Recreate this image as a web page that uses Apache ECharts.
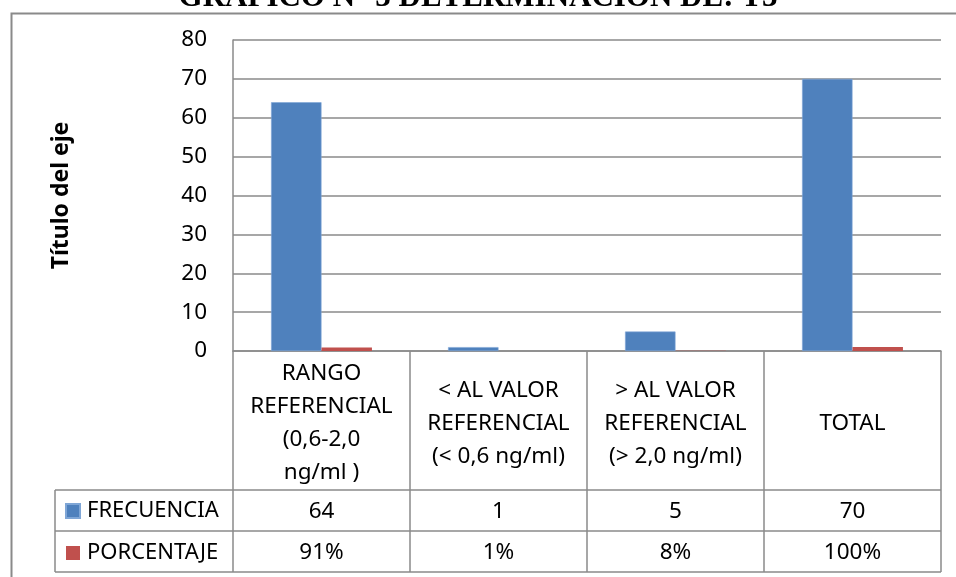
<!DOCTYPE html>
<html>
<head>
<meta charset="utf-8">
<script src="https://cdn.jsdelivr.net/npm/echarts@6/dist/echarts.min.js"></script>
<style>
  html, body { margin: 0; padding: 0; background: #fff; }
  #main { width: 956px; height: 577px; }
</style>
</head>
<body>
<div id="main"></div>
<script>
// datos del grafico
var categorias = ['RANGO\nREFERENCIAL\n(0,6-2,0\nng/ml )', '< AL VALOR\nREFERENCIAL\n(< 0,6 ng/ml)', '> AL VALOR\nREFERENCIAL\n(> 2,0 ng/ml)', 'TOTAL'];
var frecuencia = [64, 1, 5, 70];
var porcentaje = [0.91, 0.01, 0.08, 1];
var yTicks = [0, 10, 20, 30, 40, 50, 60, 70, 80];

var gris = '#8a8a8a';
var fuente = '"Noto Sans", sans-serif';

// medidas de la tabla de datos
var gridLeft = 233, gridRight = 15, gridTop = 40, gridBottom = 226;
var ejeY = 577 - gridBottom;   // linea del eje x
var filaCat = 139;            // alto de la fila de categorias
var filaDato = 41;            // alto de cada fila de valores
var tablaIzq = 55;
var tablaDer = 956 - gridRight;

var chart = echarts.init(document.getElementById('main'));

var option = {
  animation: false,
  textStyle: { fontFamily: fuente },
  grid: { left: gridLeft, right: gridRight, top: gridTop, bottom: gridBottom, containLabel: false },
  legend: {
    orient: 'vertical',
    left: 60,
    top: ejeY + filaCat + 5,
    itemWidth: 14,
    itemHeight: 14,
    itemGap: 20,
    icon: 'rect',
    data: ['FRECUENCIA', 'PORCENTAJE'],
    textStyle: { fontFamily: fuente, fontSize: 22, color: '#000', padding: [0, 0, 0, 2] }
  },
  xAxis: [
    {
      type: 'category',
      data: categorias,
      axisLine: { lineStyle: { color: gris, width: 1.5 } },
      axisTick: { show: true, length: filaCat + filaDato * 2, lineStyle: { color: gris, width: 1.5 } },
      axisLabel: {
        interval: 0,
        margin: filaCat / 2 + 3,
        verticalAlign: 'middle',
        lineHeight: 33,
        fontSize: 22.5,
        color: '#000',
        fontFamily: fuente
      }
    },
    {
      type: 'category',
      data: frecuencia.map(String),
      position: 'bottom',
      axisLine: { show: false },
      axisTick: { show: false },
      axisLabel: {
        interval: 0,
        margin: filaCat + filaDato / 2 + 1,
        verticalAlign: 'middle',
        fontSize: 22.5,
        color: '#000',
        fontFamily: fuente
      }
    },
    {
      type: 'category',
      data: porcentaje.map(function (p) { return Math.round(p * 100) + '%'; }),
      position: 'bottom',
      axisLine: { show: false },
      axisTick: { show: false },
      axisLabel: {
        interval: 0,
        margin: filaCat + filaDato * 1.5 + 1,
        verticalAlign: 'middle',
        fontSize: 22.5,
        color: '#000',
        fontFamily: fuente
      }
    }
  ],
  yAxis: {
    type: 'value',
    min: yTicks[0],
    max: yTicks[yTicks.length - 1],
    interval: 10,
    name: 'Título del eje',
    nameLocation: 'middle',
    nameGap: 160,
    nameTextStyle: { fontFamily: fuente, fontSize: 23, fontWeight: 'bold', color: '#000' },
    axisLine: { show: true, lineStyle: { color: gris, width: 1.5 } },
    axisTick: { show: false },
    axisLabel: { margin: 26, fontSize: 22.5, color: '#000', fontFamily: fuente },
    splitLine: { lineStyle: { color: gris, width: 1.5 } }
  },
  series: [
    {
      name: 'FRECUENCIA',
      type: 'bar',
      data: frecuencia,
      barGap: '0%',
      barCategoryGap: '43%',
      itemStyle: { color: '#4F81BD', borderColor: '#7fa6d6', borderWidth: 0.6 }
    },
    {
      name: 'PORCENTAJE',
      type: 'bar',
      data: porcentaje,
      itemStyle: { color: '#C0504D' }
    }
  ],
  graphic: [
    // marco exterior
    { type: 'rect', left: 9, top: 11, shape: { width: 1000, height: 620 }, style: { fill: null, stroke: gris, lineWidth: 2 }, silent: true },
    // titulo cortado arriba
    {
      type: 'text', left: 'center', top: -18,
      style: { text: 'GRAFICO N° 3 DETERMINACION DE: T3', font: 'bold 31px "Liberation Serif", serif', fill: '#000' }
    },
    // lineas de la tabla
    { type: 'line', shape: { x1: tablaIzq, y1: ejeY + filaCat, x2: tablaDer, y2: ejeY + filaCat }, style: { stroke: gris, lineWidth: 1.5 } },
    { type: 'line', shape: { x1: tablaIzq, y1: ejeY + filaCat + filaDato, x2: tablaDer, y2: ejeY + filaCat + filaDato }, style: { stroke: gris, lineWidth: 1.5 } },
    { type: 'line', shape: { x1: tablaIzq, y1: ejeY + filaCat + filaDato * 2, x2: tablaDer, y2: ejeY + filaCat + filaDato * 2 }, style: { stroke: gris, lineWidth: 1.5 } },
    { type: 'line', shape: { x1: tablaIzq, y1: ejeY + filaCat, x2: tablaIzq, y2: ejeY + filaCat + filaDato * 2 }, style: { stroke: gris, lineWidth: 1.5 } }
  ]
};

chart.setOption(option);
</script>
</body>
</html>
